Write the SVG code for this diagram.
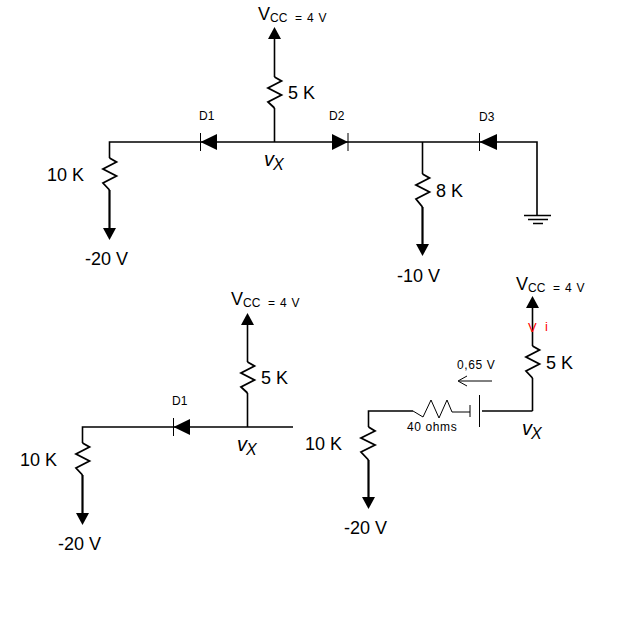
<svg xmlns="http://www.w3.org/2000/svg" width="640" height="631" viewBox="0 0 640 631">
<defs>
<style>
text{font-family:"Liberation Sans",Arial,sans-serif;fill:#000}
.w{fill:none;stroke:#000;stroke-width:1.600}
.h{fill:none;stroke:#000;stroke-width:2.200}
.t{fill:none;stroke:#000;stroke-width:1}
.f{fill:#000;stroke:none}
.z{fill:none;stroke:#000;stroke-width:1.800}
.l{font-size:18px}
.s{font-size:12px}
.o{font-size:12px;letter-spacing:.6px}
.c{font-size:12px}
.e{font-size:12px;letter-spacing:.8px}
.n{font-size:18px}
.v{font-size:20px;font-style:italic}
.x{font-size:16px;font-style:italic}
</style>
</defs>
<rect width="640" height="631" fill="#fff"/>
<g id="connectors">
<path class="w" d="M274.500 142V108M274.500 77V36"/>
<path class="w" d="M109.500 158V142H537V215"/>
<path class="h" d="M109.500 190V232"/>
<path class="w" d="M422.500 142V174"/>
<path class="h" d="M422.500 207V248"/>
<path class="w" d="M247.500 427V393M247.500 362V322"/>
<path class="w" d="M82.500 443V427H293"/>
<path class="h" d="M82.500 475V517"/>
<path class="w" d="M532.500 411V378M532.500 346V305"/>
<path class="w" d="M368.500 427V411H413"/>
<path class="h" d="M368.500 460V501"/>
<path class="w" d="M482 411H532.500"/>
<path class="t" d="M452 412H470"/>
<path class="t" d="M492 381H459M467 376L458 381L467 386"/>
</g>
<g id="top-supply">
<path class="f" d="M274.500 27L281 39H268Z"/>
<path class="z" d="M274.500 77L281.500 81L268 88L281.500 95L268 102L274.500 108"/>
<text class="l" x="288" y="99">5 K</text>
<text class="n" x="258" y="20">V</text><text class="c" x="270" y="22">CC</text><text class="e" x="295" y="22">= 4 V</text>
<text class="v" x="264" y="166">v</text><text class="x" x="273" y="170">X</text>
</g>
<g id="top-d1"><path class="f" d="M200.500 142L217 134V150Z"/><path class="t" d="M200.500 133V151"/><text class="s" x="199" y="120">D1</text></g>
<g id="top-d2"><path class="f" d="M348 142L332 134V150Z"/><path class="t" d="M348 133V151"/><text class="s" x="329" y="120">D2</text></g>
<g id="top-d3"><path class="f" d="M479.500 142L497 134V150Z"/><path class="t" d="M479.500 133V151"/><text class="s" x="479" y="121">D3</text></g>
<g id="top-10k">
<path class="z" d="M109.500 158L116.500 162L103 169L116.500 176L103 183L109.500 190"/>
<path class="f" d="M109.500 240L103 228H116Z"/>
<text class="l" x="47" y="181">10 K</text><text class="l" x="85" y="265">-20 V</text>
</g>
<g id="top-8k">
<path class="z" d="M422.500 174L429.500 178L416 185L429.500 192L416 199L422.500 207"/>
<path class="f" d="M422.500 256L416 244H429Z"/>
<text class="l" x="436" y="197">8 K</text><text class="l" x="397" y="282">-10 V</text>
</g>
<g id="ground"><path class="w" d="M524 215.500H551M528 219.500H548M533 223.500H543"/></g>
<g id="left-supply">
<path class="f" d="M247.500 313L254 325H241Z"/>
<path class="z" d="M247.500 362L254.500 366L241 373L254.500 380L241 387L247.500 393"/>
<text class="l" x="261" y="384">5 K</text>
<text class="n" x="231" y="305">V</text><text class="c" x="243" y="307">CC</text><text class="e" x="268" y="307">= 4 V</text>
<text class="v" x="237" y="451">v</text><text class="x" x="246" y="455">X</text>
</g>
<g id="left-d1"><path class="f" d="M173.500 427L190 419V435Z"/><path class="t" d="M173.500 418V436"/><text class="s" x="172" y="405">D1</text></g>
<g id="left-10k">
<path class="z" d="M82.500 443L89.500 447L76 454L89.500 461L76 468L82.500 475"/>
<path class="f" d="M82.500 525L76 513H89Z"/>
<text class="l" x="20" y="466">10 K</text><text class="l" x="58" y="550">-20 V</text>
</g>
<g id="right-supply">
<path class="f" d="M532.500 296L539 308H526Z"/>
<path class="z" d="M532.500 346L539.500 350L526 357L539.500 364L526 371L532.500 378"/>
<text class="l" x="546" y="369">5 K</text>
<text class="n" x="516" y="290">V</text><text class="c" x="528" y="292">CC</text><text class="e" x="553" y="292">= 4 V</text>
<text class="v" x="522" y="435">v</text><text class="x" x="531" y="439">X</text>
<text x="528" y="332" font-size="13" style="fill:#f00">V</text><text x="545" y="331" font-size="13" style="fill:#f00">i</text>
</g>
<g id="right-drop">
<path class="t" d="M413 411L423 417L431 400L439 418L447 400L452 412"/>
<path class="t" d="M470 405V417M479.500 395V427"/>
<text class="o" x="407" y="431">40 ohms</text><text class="o" x="457" y="369">0,65 V</text>
</g>
<g id="right-10k">
<path class="z" d="M368.500 427L375 431L361 438L375 445L361 452L368.500 460"/>
<path class="f" d="M368.500 509L362 497H375Z"/>
<text class="l" x="305" y="450">10 K</text><text class="l" x="344" y="534">-20 V</text>
</g>
</svg>
